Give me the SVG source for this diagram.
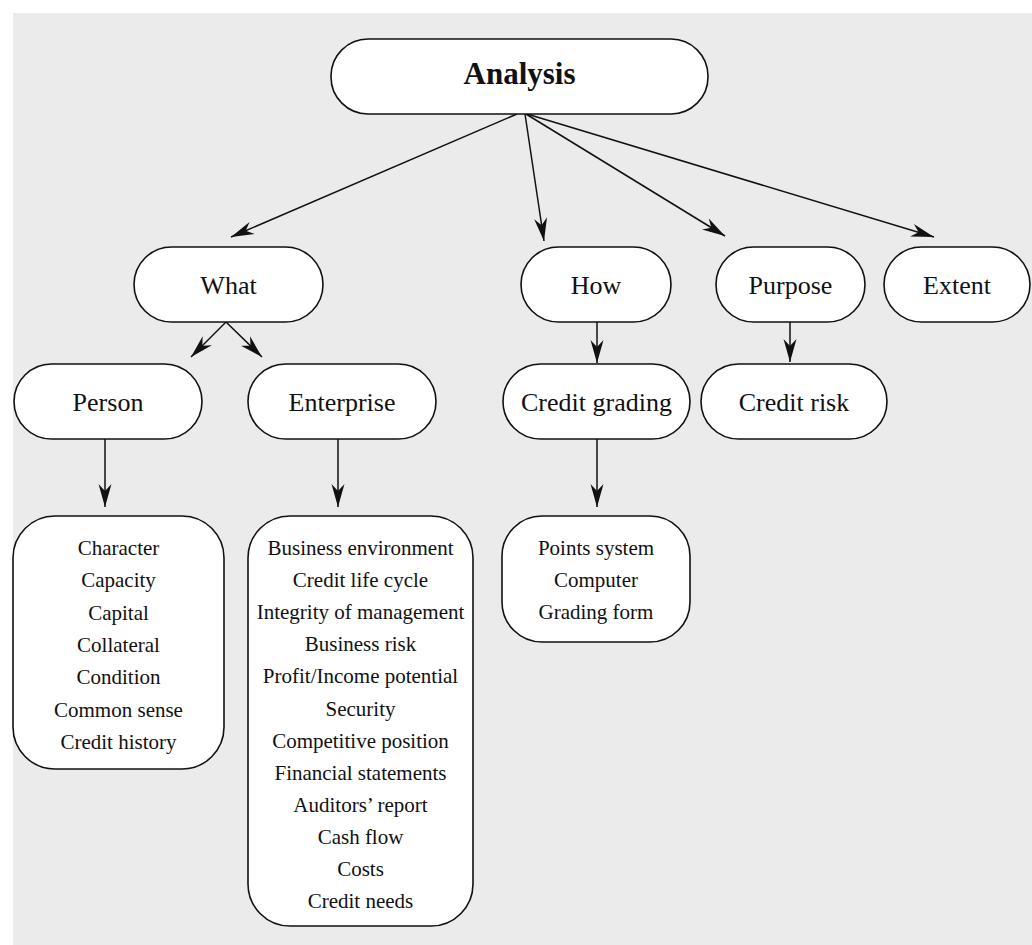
<svg xmlns="http://www.w3.org/2000/svg" width="1032" height="945" viewBox="0 0 1032 945">
<style>
.bg{fill:#ebebeb}
.node{fill:#fff;stroke:#111;stroke-width:1.6}
.t{font-family:"Liberation Serif","Times New Roman",serif;font-size:26px;fill:#111;text-anchor:middle}
.b{font-weight:bold;font-size:31px}
.l{font-size:21px}
.c{stroke:#111;stroke-width:1.5;fill:none;marker-end:url(#ah)}
</style>
<defs>
<marker id="ah" markerUnits="userSpaceOnUse" viewBox="-24 -8 26 16" refX="0" refY="0" markerWidth="26" markerHeight="16" orient="auto">
<path d="M0,0 L-23,-6.5 L-16,0 L-23,6.5 Z" fill="#111"/>
</marker>
</defs>
<rect class="bg" x="13" y="13" width="1019" height="932"/>
<g id="connectors">
<line class="c" x1="517" y1="114" x2="231" y2="237"/>
<line class="c" x1="525" y1="114" x2="544" y2="241"/>
<line class="c" x1="526" y1="114" x2="725" y2="236"/>
<line class="c" x1="527" y1="114" x2="934" y2="237"/>
<line class="c" x1="226" y1="322" x2="191" y2="357"/>
<line class="c" x1="226" y1="322" x2="262" y2="357"/>
<line class="c" x1="105" y1="439" x2="105" y2="507"/>
<line class="c" x1="338" y1="439" x2="338" y2="507"/>
<line class="c" x1="597" y1="322" x2="597" y2="363"/>
<line class="c" x1="790" y1="322" x2="790" y2="362"/>
<line class="c" x1="597" y1="439" x2="597" y2="507"/>
</g>
<g id="analysis">
<rect class="node" x="331" y="39" width="377" height="75" rx="37" ry="37"/>
<text class="t b" x="519.5" y="84">Analysis</text>
</g>
<g id="what">
<rect class="node" x="134" y="247" width="189" height="75" rx="37.5" ry="37.5"/>
<text class="t" x="228.5" y="294">What</text>
</g>
<g id="how">
<rect class="node" x="521" y="247" width="150" height="75" rx="37.5" ry="37.5"/>
<text class="t" x="596" y="294">How</text>
</g>
<g id="purpose">
<rect class="node" x="716" y="247" width="149" height="75" rx="37.5" ry="37.5"/>
<text class="t" x="790.5" y="294">Purpose</text>
</g>
<g id="extent">
<rect class="node" x="884" y="247" width="146" height="75" rx="37.5" ry="37.5"/>
<text class="t" x="957" y="294">Extent</text>
</g>
<g id="person">
<rect class="node" x="14" y="364" width="188" height="75" rx="37.5" ry="37.5"/>
<text class="t" x="108" y="411">Person</text>
</g>
<g id="enterprise">
<rect class="node" x="248" y="364" width="188" height="75" rx="37.5" ry="37.5"/>
<text class="t" x="342" y="411">Enterprise</text>
</g>
<g id="credit-grading">
<rect class="node" x="503" y="364" width="187" height="75" rx="37.5" ry="37.5"/>
<text class="t" x="596.5" y="411">Credit grading</text>
</g>
<g id="credit-risk">
<rect class="node" x="701" y="364" width="186" height="75" rx="37.5" ry="37.5"/>
<text class="t" x="794" y="411">Credit risk</text>
</g>
<g id="person-list">
<rect class="node" x="13" y="516" width="211" height="253" rx="42" ry="42"/>
<text class="t l" x="118.5" y="555">Character</text>
<text class="t l" x="118.5" y="587.3">Capacity</text>
<text class="t l" x="118.5" y="619.6">Capital</text>
<text class="t l" x="118.5" y="651.9">Collateral</text>
<text class="t l" x="118.5" y="684.2">Condition</text>
<text class="t l" x="118.5" y="716.5">Common sense</text>
<text class="t l" x="118.5" y="748.8">Credit history</text>
</g>
<g id="enterprise-list">
<rect class="node" x="248" y="516" width="225" height="410" rx="42" ry="42"/>
<text class="t l" x="360.5" y="555">Business environment</text>
<text class="t l" x="360.5" y="587.1">Credit life cycle</text>
<text class="t l" x="360.5" y="619.2">Integrity of management</text>
<text class="t l" x="360.5" y="651.3">Business risk</text>
<text class="t l" x="360.5" y="683.4">Profit/Income potential</text>
<text class="t l" x="360.5" y="715.5">Security</text>
<text class="t l" x="360.5" y="747.6">Competitive position</text>
<text class="t l" x="360.5" y="779.7">Financial statements</text>
<text class="t l" x="360.5" y="811.8">Auditors’ report</text>
<text class="t l" x="360.5" y="843.9">Cash flow</text>
<text class="t l" x="360.5" y="876">Costs</text>
<text class="t l" x="360.5" y="908.1">Credit needs</text>
</g>
<g id="grading-list">
<rect class="node" x="502" y="516" width="188" height="126" rx="40" ry="40"/>
<text class="t l" x="596" y="555">Points system</text>
<text class="t l" x="596" y="587">Computer</text>
<text class="t l" x="596" y="619">Grading form</text>
</g>
</svg>
